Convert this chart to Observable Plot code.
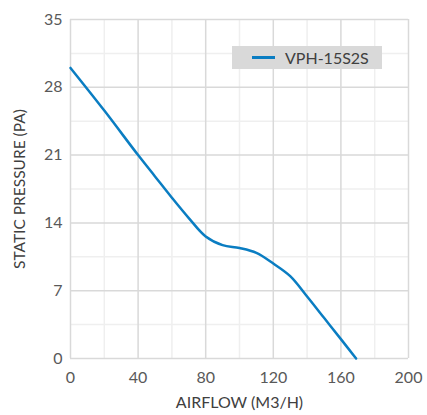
<!DOCTYPE html>
<html>
<head>
<meta charset="utf-8">
<script src="https://cdn.jsdelivr.net/npm/d3@7"></script>
<script src="https://cdn.jsdelivr.net/npm/@observablehq/plot@0.6"></script>
<style>
  html, body { margin: 0; padding: 0; background: #fff; }
  #wrap { position: relative; width: 427px; height: 415px; font-family: Lato, "Open Sans", sans-serif; }
  #legend { position: absolute; left: 232px; top: 46px; width: 150px; height: 23px; background: #d9d9d9;
            display: flex; align-items: center; font-size: 16px; color: #404040; }
  #legend .sw { display: inline-block; width: 23px; height: 3px; background: #0a7dc2; margin-left: 20px; margin-right: 10px; }
</style>
</head>
<body>
<div id="wrap"><div id="legend"><span class="sw"></span><span id="ltext"></span></div></div>
<script>
const seriesName = "VPH-15S2S";
const airflow  = [0, 20, 40, 50, 60, 70, 80, 90, 100, 110, 120, 130, 140, 150, 160, 169];
const pressure = [30, 25.6, 21, 18.8, 16.6, 14.5, 12.6, 11.7, 11.4, 10.9, 9.8, 8.5, 6.4, 4.2, 2.0, 0];
const xTicks = [0, 40, 80, 120, 160, 200];
const xMinor = [20, 60, 100, 140, 180];
const yTicks = [0, 7, 14, 21, 28, 35];
const yMinor = [3.5, 10.5, 17.5, 24.5, 31.5];
const xLabel = "AIRFLOW (M3/H)";
const yLabel = "STATIC PRESSURE (PA)";

document.getElementById("ltext").textContent = seriesName;
const data = airflow.map((x, i) => ({x, y: pressure[i]}));

const chart = Plot.plot({
  width: 427, height: 415,
  marginLeft: 70, marginRight: 19, marginTop: 19, marginBottom: 57,
  style: {fontFamily: "Lato, 'Open Sans', sans-serif", fontSize: "16px", color: "#595959", background: "#fff"},
  x: {domain: [0, 200]},
  y: {domain: [0, 35]},
  marks: [
    Plot.ruleX(xMinor, {stroke: "#efefef", strokeWidth: 1.5}),
    Plot.ruleY(yMinor, {stroke: "#efefef", strokeWidth: 1.5}),
    Plot.ruleX(xTicks, {stroke: "#d9d9d9", strokeWidth: 1.5}),
    Plot.ruleY(yTicks, {stroke: "#d9d9d9", strokeWidth: 1.5}),
    Plot.axisX({ticks: xTicks, tickSize: 0, tickPadding: 13, fontSize: 16, label: null}),
    Plot.axisY({ticks: yTicks, tickSize: 0, tickPadding: 8, fontSize: 16, label: null}),
    Plot.text([xLabel], {frameAnchor: "bottom", dy: 49, fontSize: 16, fill: "#404040"}),
    Plot.text([yLabel], {frameAnchor: "left", textAnchor: "middle", lineAnchor: "middle", dx: -50, rotate: -90, fontSize: 15.5, fill: "#404040"}),
    Plot.line(data, {x: "x", y: "y", stroke: "#0a7dc2", strokeWidth: 2.5, curve: "catmull-rom"})
  ]
});
document.getElementById("wrap").prepend(chart);
</script>
</body>
</html>
